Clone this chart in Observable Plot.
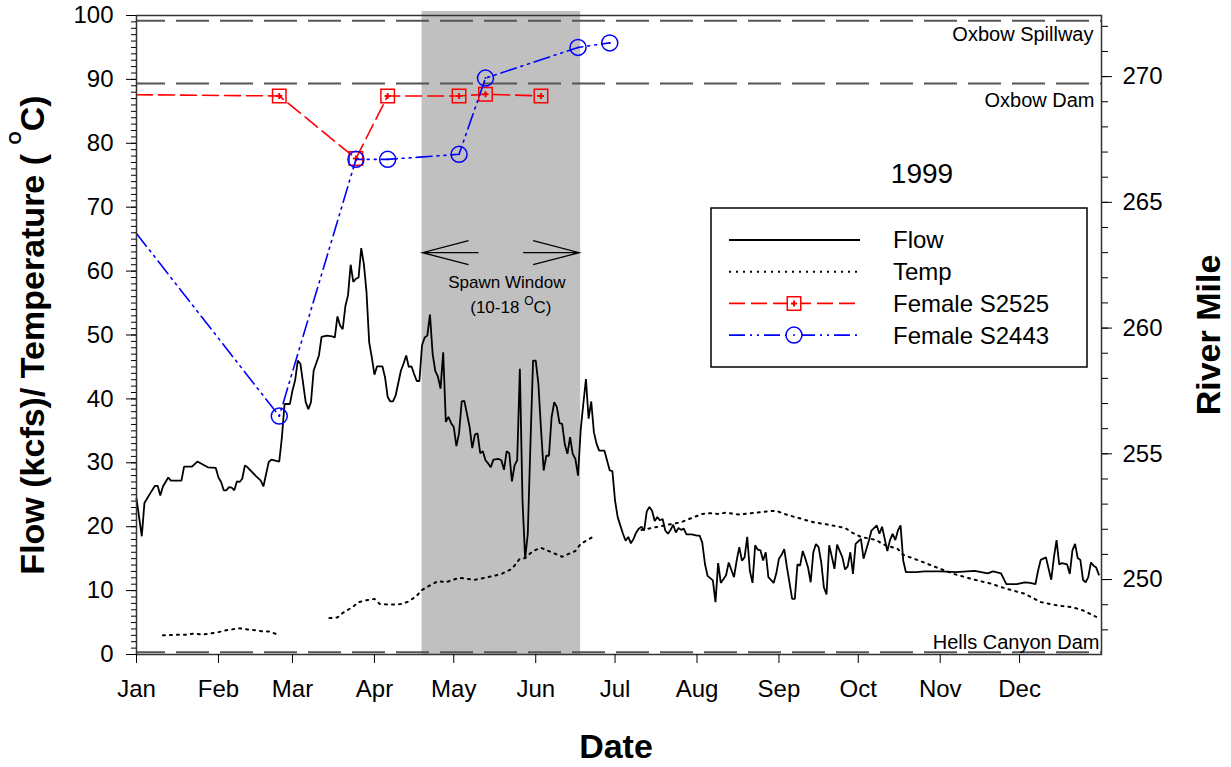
<!DOCTYPE html>
<html>
<head>
<meta charset="utf-8">
<script src="https://cdn.jsdelivr.net/npm/d3@7"></script>
<script src="https://cdn.jsdelivr.net/npm/@observablehq/plot@0.6"></script>
<style>
  body { margin: 0; background: #fff; }
  #chart svg { display: block; }
</style>
</head>
<body>
<div id="chart"></div>
<script>
// ---- Axis ticks -------------------------------------------------------
const monthStarts = [0, 31, 59, 90, 120, 151, 181, 212, 243, 273, 304, 334];
const monthLabels = ["Jan", "Feb", "Mar", "Apr", "May", "Jun", "Jul", "Aug", "Sep", "Oct", "Nov", "Dec"];
const leftTicks = [0, 10, 20, 30, 40, 50, 60, 70, 80, 90, 100];
const mileTicks = [250, 255, 260, 265, 270];
const mileDomain = [247.02, 272.43];   // river-mile range spanned by the 0–100 left axis

// ---- Daily flow below Hells Canyon, 1999 (kcfs), by day of year (Jan 1 = 0)
const flowDay = [0,2,3,5,7,8,9,10,12,13,17,18,21,23,27,30,31,32,33,34,35,36,37,38,39,40,41,42,45,47,48,50,51,54,55,56,58,59,60,61,62,64,65,66,67,69,70,72,74,75,76,77,78,79,80,81,82,83,84,85,86,87,88,89,90,91,93,94,95,96,97,98,100,101,102,103,104,105,106,107,108,109,110,111,112,113,114,115,116,117,118,119,120,121,122,123,124,126,127,128,129,130,131,132,133,134,135,137,138,139,140,141,142,143,144,145,146,147,148,149,150,151,152,153,154,155,156,157,158,159,160,161,162,163,164,165,166,167,168,169,170,171,172,173,174,175,177,179,180,181,182,184,185,186,187,188,189,190,191,192,193,194,195,196,197,198,199,200,201,202,203,204,205,206,207,208,210,212,213,214,215,216,218,219,220,221,223,224,226,227,228,229,230,231,232,233,234,235,236,237,238,239,241,242,243,244,245,246,248,249,250,251,252,253,254,255,256,257,258,259,260,261,262,263,264,265,267,268,269,270,271,272,273,274,275,277,278,280,281,282,283,284,285,286,287,288,289,290,291,295,298,304,310,317,322,324,327,329,333,336,338,340,341,342,344,345,346,347,348,349,350,352,353,354,355,356,357,358,359,360,361,362,363,364];
const flowKcfs = [24.4,18.5,23.7,25.1,26.4,26.4,24.9,26.3,27.7,27.2,27.2,29.4,29.4,30.2,29.3,29.2,27.7,27.0,25.7,25.7,26.2,26.1,25.7,27.1,27.0,27.5,29.6,29.3,28.0,27.2,26.3,30.1,30.5,30.2,34.0,39.2,39.2,41.3,42.9,46.0,45.5,39.5,38.4,39.5,44.4,46.8,49.7,49.9,49.8,49.6,52.9,51.5,50.9,54.5,56.2,61.0,58.3,58.8,59.0,63.6,61.1,56.7,48.9,46.5,43.8,45.1,45.1,43.4,40.3,39.6,39.6,40.5,44.4,45.5,46.8,45.0,45.1,43.9,42.8,42.8,48.4,49.6,49.9,53.2,47.1,44.4,43.5,41.6,47.3,36.4,37.2,36.2,35.6,32.6,34.6,39.6,39.7,35.6,32.3,34.4,34.6,31.5,31.8,30.4,29.9,29.3,30.5,30.6,30.4,28.9,31.8,31.5,27.1,29.6,30.4,44.7,24.1,15.0,18.9,32.9,46.0,46.0,42.4,35.3,28.8,31.1,31.1,37.1,39.5,38.7,36.2,36.1,32.9,31.4,34.0,31.4,30.6,28.0,35.1,39.2,43.1,36.9,39.6,34.8,33.0,31.9,31.9,28.8,28.7,24.1,21.5,18.9,17.8,18.4,17.4,18.1,19.1,19.7,20.0,19.4,22.4,23.1,22.5,20.9,21.5,21.0,21.2,19.4,18.9,19.5,20.3,19.1,19.8,19.5,19.7,18.8,18.8,18.6,18.6,17.5,14.2,12.3,11.6,8.2,14.3,11.2,12.4,14.4,12.1,14.7,16.8,14.7,15.2,18.4,13.1,11.2,17.1,16.4,16.3,14.7,16.0,12.1,11.2,12.7,15.0,15.6,16.5,13.7,8.7,8.7,14.1,13.9,16.2,15.0,13.6,11.3,16.0,17.3,16.8,14.4,10.5,9.4,17.1,15.3,13.4,17.2,15.2,13.3,13.8,16.0,12.6,17.3,17.7,18.1,15.0,17.8,19.4,20.2,18.9,20.0,18.1,16.2,17.9,18.9,17.9,19.4,20.2,14.7,12.9,12.9,13.0,13.0,12.9,13.1,12.7,13.0,12.7,11.0,11.0,11.3,11.2,11.0,13.1,14.8,15.2,13.4,11.7,15.2,17.9,14.1,14.3,14.1,12.6,16.3,17.3,15.1,14.8,11.7,11.3,12.1,14.4,13.9,13.6,12.5];

// ---- Water temperature (°C); NaN marks the gaps in the record
const tempDay = [10,15,19,22,25,28,31,34,39,42,45,48,50,53,60,73,76,78,82,84,87,90,92,96,100,103,106,108,111,114,117,122,128,133,138,142,145,147,150,153,157,161,166,168,173,182,191,195,201,206,209,214,217,220,223,228,234,239,242,245,250,256,262,268,271,274,280,282,285,288,290,296,304,310,317,323,329,336,342,348,354,358,363];
const tempC = [3.0,3.1,3.1,3.3,3.1,3.3,3.5,3.8,4.1,3.9,3.8,3.6,3.6,3.2,NaN,5.7,5.8,6.5,7.5,8.2,8.5,8.7,7.9,7.8,7.9,8.3,9.2,10.1,10.8,11.5,11.3,12.0,11.7,12.1,12.6,13.4,15.0,15.1,16.2,16.7,16.0,15.3,16.2,17.3,18.5,NaN,19.5,19.8,20.3,20.7,21.2,22.0,22.1,22.0,22.2,21.9,22.2,22.4,22.5,22.0,21.4,20.7,20.3,19.8,19.0,18.4,17.9,17.3,16.9,16.5,15.6,14.7,13.4,12.5,11.7,11.1,10.3,9.5,8.2,7.7,7.4,6.9,5.9];

// ---- Radio-tagged sturgeon locations (river mile); the first entry is the
// carry-over position on Jan 1 and is drawn without a marker
const s2525Day = [0, 54, 83, 95, 122, 132, 153];
const s2525Mile = [269.28, 269.23, 266.74, 269.23, 269.23, 269.30, 269.23];
const s2443Day = [0, 54, 83, 95, 122, 132, 167, 179];
const s2443Mile = [263.76, 256.50, 266.71, 266.71, 266.91, 269.94, 271.16, 271.34];

// ---- Landmarks (river mile) and the spawning window (day of year)
const landmarkNames = ["Oxbow Spillway", "Oxbow Dam", "Hells Canyon Dam"];
const landmarkMile = [272.22, 269.73, 247.11];
const spawnWindow = [108, 168];   // Apr 19 – Jun 18

// ---- Derived tables
const [m0, m1] = mileDomain;
const toLeft = m => (m - m0) / (m1 - m0) * 100;
const fromLeft = v => m0 + v / 100 * (m1 - m0);

const flow = flowDay.map((d, i) => ({day: d, kcfs: flowKcfs[i]}));
const temp = tempDay.map((d, i) => ({day: d, c: tempC[i]}));
const s2525 = s2525Day.map((d, i) => ({day: d, mile: s2525Mile[i]}));
const s2443 = s2443Day.map((d, i) => ({day: d, mile: s2443Mile[i]}));
const landmarks = landmarkNames.map((name, i) => ({name, mile: landmarkMile[i]}));

const FONT = "'Liberation Sans', Arial, Helvetica, sans-serif";
const RED = "#ff0000", BLUE = "#0000ff";
const redDash = "16,6";
const blueDash = "16,5,2,5,2,5";
const tempDash = "2,5";
const plusSize = 13.7;   // d3 symbol area giving a small 6px cross

const landmarkLabel = (name, opts) => Plot.text(landmarks.filter(d => d.name === name), {
  x: 365, y: d => toLeft(d.mile), text: "name", textAnchor: "end",
  fontSize: 20, fill: "black", ...opts
});

const plot = Plot.plot({
  width: 1231,
  height: 767,
  marginLeft: 136,
  marginRight: 130,
  marginTop: 15,
  marginBottom: 113,
  x: {domain: [0, 365]},
  y: {domain: [0, 100]},
  style: {fontFamily: FONT, fontSize: "24px", color: "black", background: "white", overflow: "visible"},
  marks: [
    // spawning window band
    Plot.rect([spawnWindow], {x1: d => d[0], x2: d => d[1], fill: "#c0c0c0", insetTop: -4}),
    // landmark reference lines
    Plot.ruleY(landmarks, {y: d => toLeft(d.mile), stroke: "#555", strokeWidth: 2, strokeDasharray: "33,11", strokeDashoffset: 4}),
    landmarkLabel("Oxbow Spillway", {lineAnchor: "top", dx: -8, dy: 6}),
    landmarkLabel("Oxbow Dam", {lineAnchor: "top", dx: -7, dy: 9}),
    landmarkLabel("Hells Canyon Dam", {lineAnchor: "bottom", dx: -2, dy: -3}),
    // temperature and flow
    Plot.line(temp, {x: "day", y: "c", stroke: "black", strokeWidth: 2, strokeDasharray: tempDash}),
    Plot.line(flow, {x: "day", y: "kcfs", stroke: "black", strokeWidth: 1.8, strokeLinejoin: "miter"}),
    // female S2525
    Plot.line(s2525, {x: "day", y: d => toLeft(d.mile), stroke: RED, strokeWidth: 1.6, strokeDasharray: redDash}),
    Plot.dot(s2525.slice(1), {x: "day", y: d => toLeft(d.mile), symbol: "square", r: 7.6, stroke: RED, strokeWidth: 1.5, fill: "none"}),
    Plot.dot(s2525.slice(1), {x: "day", y: d => toLeft(d.mile), symbol: "plus", r: Math.sqrt(plusSize / Math.PI), stroke: RED, strokeWidth: 2}),
    // female S2443
    Plot.line(s2443, {x: "day", y: d => toLeft(d.mile), stroke: BLUE, strokeWidth: 1.6, strokeDasharray: blueDash}),
    Plot.dot(s2443.slice(1), {x: "day", y: d => toLeft(d.mile), symbol: "circle", r: 8, stroke: BLUE, strokeWidth: 1.5, fill: "none"}),
    Plot.dot(s2443.slice(1), {x: "day", y: d => toLeft(d.mile), r: 1, fill: BLUE}),
    // frame and axes
    Plot.frame({stroke: "#333", strokeWidth: 1.5}),
    Plot.axisX({ticks: monthStarts, tickFormat: d => monthLabels[monthStarts.indexOf(d)], tickSize: 9, tickPadding: 16, label: null}),
    Plot.axisY({ticks: d3.range(0, 101, 1), tickSize: 5, tickFormat: () => "", label: null}),
    Plot.axisY({ticks: leftTicks, tickSize: 10, tickPadding: 13, label: null}),
    Plot.axisY({anchor: "right", ticks: d3.range(248, 273).map(toLeft), tickSize: 6, tickFormat: () => "", label: null}),
    Plot.axisY({anchor: "right", ticks: mileTicks.map(toLeft), tickSize: 10, tickPadding: 11, tickFormat: v => String(Math.round(fromLeft(v))), label: null})
  ]
});

document.getElementById("chart").appendChild(plot);

// ---- Annotations drawn in screen space on top of the plot
const svg = d3.select(plot);
const xs = plot.scale("x");
const X = v => xs.apply(v);

const ann = svg.append("g").attr("font-family", FONT).attr("fill", "black").attr("text-anchor", "start");

// spawning window arrows
const arrowY = 252.7;
const xL = X(spawnWindow[0]) + 1, xR = X(spawnWindow[1]) - 1;
const arrowPaths = [
  `M${xL + 56},${arrowY}H${xL}M${xL + 46},${arrowY - 12}L${xL},${arrowY}L${xL + 46},${arrowY + 12}`,
  `M${xR - 56},${arrowY}H${xR}M${xR - 46},${arrowY - 12}L${xR},${arrowY}L${xR - 46},${arrowY + 12}`
];
ann.selectAll("path.arrow").data(arrowPaths).join("path")
  .attr("d", d => d).attr("fill", "none").attr("stroke", "black").attr("stroke-width", 1.3);

const xMid = (X(spawnWindow[0]) + X(spawnWindow[1])) / 2;
ann.append("text").attr("x", xMid + 6).attr("y", 288).attr("text-anchor", "middle")
  .attr("font-size", 17).text("Spawn Window");
const rng = ann.append("text").attr("x", xMid + 10).attr("y", 313).attr("text-anchor", "middle").attr("font-size", 17);
rng.append("tspan").text("(10-18 ");
rng.append("tspan").attr("font-size", 12).attr("dy", -8).text("O");
rng.append("tspan").attr("dy", 8).text("C)");

// year label
ann.append("text").attr("x", 922).attr("y", 183).attr("text-anchor", "middle").attr("font-size", 28).text("1999");

// legend
const legendItems = [
  {label: "Flow", stroke: "black", width: 1.8, dash: null, marker: null},
  {label: "Temp", stroke: "black", width: 2, dash: tempDash, marker: null},
  {label: "Female S2525", stroke: RED, width: 1.6, dash: redDash, marker: "square"},
  {label: "Female S2443", stroke: BLUE, width: 1.6, dash: blueDash, marker: "circle"}
];
const lg = ann.append("g");
lg.append("rect").attr("x", 711).attr("y", 208).attr("width", 376).attr("height", 159)
  .attr("fill", "white").attr("stroke", "black").attr("stroke-width", 1.5);
legendItems.forEach((it, i) => {
  const y = 240 + i * 31.7;
  lg.append("line").attr("x1", 729).attr("x2", 860).attr("y1", y).attr("y2", y)
    .attr("stroke", it.stroke).attr("stroke-width", it.width).attr("stroke-dasharray", it.dash);
  if (it.marker === "square") {
    lg.append("path").attr("transform", `translate(794,${y})`)
      .attr("d", d3.symbol(d3.symbolSquare, Math.PI * 7.6 * 7.6)())
      .attr("fill", "white").attr("stroke", RED).attr("stroke-width", 1.5);
    lg.append("path").attr("transform", `translate(794,${y})`)
      .attr("d", d3.symbol(d3.symbolPlus, plusSize)())
      .attr("fill", "none").attr("stroke", RED).attr("stroke-width", 2);
  } else if (it.marker === "circle") {
    lg.append("circle").attr("cx", 794).attr("cy", y).attr("r", 8)
      .attr("fill", "white").attr("stroke", BLUE).attr("stroke-width", 1.5);
    lg.append("circle").attr("cx", 794).attr("cy", y).attr("r", 1).attr("fill", BLUE);
  }
  lg.append("text").attr("x", 893).attr("y", y).attr("dy", "0.35em")
    .attr("text-anchor", "start").attr("font-size", 24).text(it.label);
});

// axis titles
const leftTitle = ann.append("text").attr("transform", "translate(44,335) rotate(-90)")
  .attr("text-anchor", "middle").attr("font-size", 34).attr("font-weight", "bold");
leftTitle.append("tspan").text("Flow (kcfs)/ Temperature ( ");
leftTitle.append("tspan").attr("font-size", 17).attr("dy", -23).text("O");
leftTitle.append("tspan").attr("dy", 23).text("C)");

ann.append("text").attr("transform", "translate(1220,335) rotate(-90)")
  .attr("text-anchor", "middle").attr("font-size", 34).attr("font-weight", "bold").text("River Mile");

ann.append("text").attr("x", 616).attr("y", 758)
  .attr("text-anchor", "middle").attr("font-size", 34).attr("font-weight", "bold").text("Date");
</script>
</body>
</html>
